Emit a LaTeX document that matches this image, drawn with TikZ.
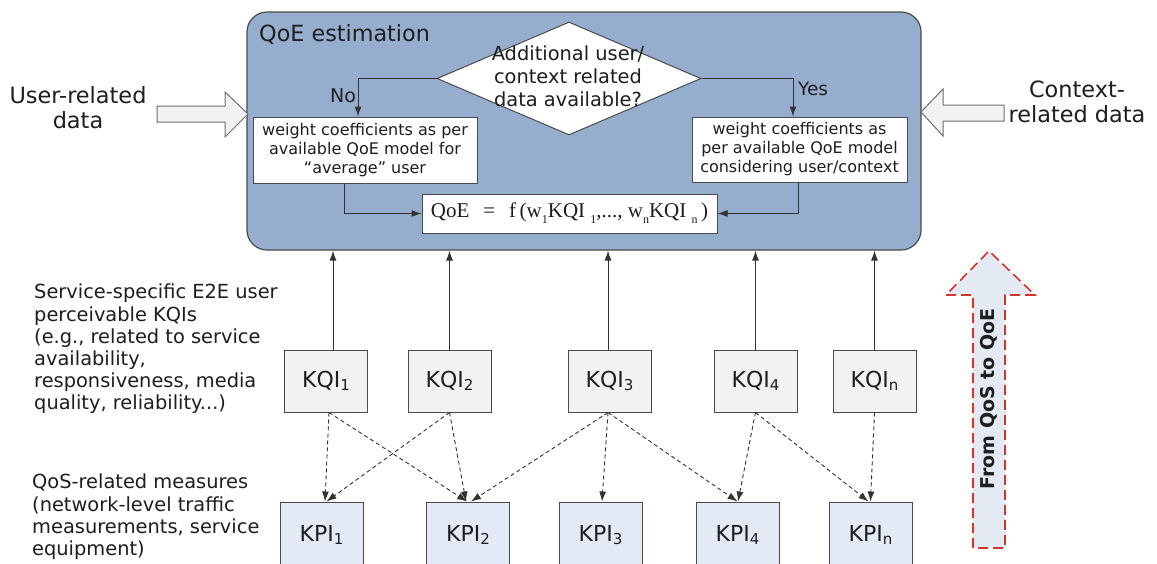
\documentclass[tikz,border=0pt]{standalone}
\usepackage{fontspec}
\setmainfont{DejaVu Sans}
\newfontfamily\formulafont{Liberation Serif}
\usetikzlibrary{arrows.meta,shapes.geometric,calc}
\definecolor{mainblue}{HTML}{95AECE}
\definecolor{kqifill}{HTML}{F2F2F2}
\definecolor{kpifill}{HTML}{E4EAF5}
\definecolor{bigfill}{HTML}{E4EAF4}
\definecolor{bigred}{HTML}{D2342C}
\definecolor{linec}{HTML}{333333}
\definecolor{boxline}{HTML}{4A4A4A}
\definecolor{txt}{HTML}{1E1E1E}
\newcommand\fsz[2]{\fontsize{#1}{#2}\selectfont}
\newcommand\mysub[1]{\raisebox{-0.12em}{\fsz{15}{15}#1}}
\newcommand\fsub[1]{\raisebox{-0.28em}{\fsz{12}{12}#1}}
\tikzset{
  solidarrow/.style={draw=linec, line width=1pt, -{Latex[length=10pt,width=7pt]}},
  dasharrow/.style={draw=linec, line width=0.9pt, dash pattern=on 4pt off 3pt, -{Latex[length=10pt,width=7pt]}},
  kqibox/.style={draw=boxline, fill=kqifill, line width=1pt, minimum width=83pt, minimum height=62pt, inner sep=0pt, text=txt, font=\fsz{22}{24}},
  kpibox/.style={draw=boxline, fill=kpifill, line width=1pt, minimum width=83pt, minimum height=66pt, inner sep=0pt, text=txt, font=\fsz{22}{24}},
  wbox/.style={draw=boxline, fill=white, line width=1pt, inner sep=0pt, align=center, text=txt, font=\fsz{16}{19}},
  fatarrow/.style={draw=boxline!80, fill=kqifill, line width=1pt},
  plain/.style={inner sep=0pt, text=txt}
}
\begin{document}
\begin{tikzpicture}[x=1pt,y=-1pt]
\clip (0,0) rectangle (1157,563);
\fill[white] (0,0) rectangle (1157,563);

% main box
\node[draw=boxline, fill=mainblue, rounded corners=20pt, minimum width=674pt, minimum height=238pt, inner sep=0pt, line width=1.2pt] (main) at (584,131) {};
\node[plain, anchor=base west, font=\fsz{22.3}{24}] (title) at (259,41) {QoE estimation};

% decision
\node[diamond, draw=boxline, fill=white, line width=1pt, minimum width=264pt, minimum height=113pt, inner sep=0pt] (dia) at (569,78.5) {};
\node[plain, anchor=north, align=center, font=\fsz{19.4}{23}] (diatext) at (568,46) {Additional user/\\context related\\data available?};

\node[wbox, minimum width=224pt, minimum height=66pt] (lbox) at (365,150) {weight coefficients as per\\available QoE model for\\“average” user};
\node[wbox, minimum width=215pt, minimum height=65pt] (rbox) at (799.5,149.5) {weight coefficients as\\per available QoE model\\considering user/context};
\node[wbox, minimum width=295pt, minimum height=39pt] (form) at (569.5,213.5) {\formulafont\fsz{21}{23}QoE\ \ \,=\ \ \,f\,(w\fsub{1}KQI\ \fsub{1},..., w\fsub{n}KQI\ \fsub{n}\,)};

\node[plain, anchor=base west, font=\fsz{19}{21}] (no) at (330,102) {No};
\node[plain, anchor=base west, font=\fsz{18.5}{21}] (yes) at (798,95) {Yes};

\coordinate (lboxN) at ([xshift=-7pt]lbox.north);
\coordinate (rboxN) at ([xshift=-6.5pt]rbox.north);
\coordinate (lboxS) at ([xshift=-21pt]lbox.south);
\coordinate (rboxS) at ([xshift=-1.5pt]rbox.south);
\draw[solidarrow] (dia.west) -| (lboxN);
\draw[solidarrow] (dia.east) -| (rboxN);
\draw[solidarrow] (lboxS) |- (form.west);
\draw[solidarrow] (rboxS) |- (form.east);

% side inputs
\draw[fatarrow] (157,106) -- (225,106) -- (225,92) -- (248,114) -- (225,137) -- (225,122) -- (157,122) -- cycle;
\draw[fatarrow] (1004,105) -- (943,105) -- (943,89) -- (921,112) -- (943,136) -- (943,121) -- (1004,121) -- cycle;
\node[plain, anchor=north, align=center, font=\fsz{22.4}{25}] (user) at (78,86) {User-related\\data};
\node[plain, anchor=north, align=center, font=\fsz{22.4}{25}] (ctx) at (1077,81) {Context-\\related data};

% left descriptions
\node[plain, anchor=north west, align=left, font=\fsz{19.4}{22.2}] (kqidesc) at (34,284) {Service-specific E2E user\\perceivable KQIs\\(e.g., related to service\\availability,\\responsiveness, media\\quality, reliability...)};
\node[plain, anchor=north west, align=left, font=\fsz{19.4}{22.3}] (kpidesc) at (32,474) {QoS-related measures\\(network-level traffic\\measurements, service\\equipment)};

% KQI boxes
\node[kqibox] (k1) at (326,381) {KQI\mysub{1}};
\node[kqibox] (k2) at (449.5,381) {KQI\mysub{2}};
\node[kqibox] (k3) at (609.5,381) {KQI\mysub{3}};
\node[kqibox] (k4) at (755.5,381) {KQI\mysub{4}};
\node[kqibox] (k5) at (874.5,381) {KQI\mysub{n}};

% KPI boxes
\node[kpibox] (p1) at (321.5,535) {KPI\mysub{1}};
\node[kpibox] (p2) at (468,535) {KPI\mysub{2}};
\node[kpibox] (p3) at (600.5,535) {KPI\mysub{3}};
\node[kpibox] (p4) at (737.5,535) {KPI\mysub{4}};
\node[kpibox] (p5) at (870.5,535) {KPI\mysub{n}};

% KQI -> QoE estimation
\coordinate (k1t) at ([xshift=7pt]k1.north);
\draw[solidarrow] (k1t) -- (k1t |- main.south);
\draw[solidarrow] (k2.north) -- (k2.north |- main.south);
\coordinate (k3t) at ([xshift=-1.5pt]k3.north);
\draw[solidarrow] (k3t) -- (k3t |- main.south);
\draw[solidarrow] (k4.north) -- (k4.north |- main.south);
\draw[solidarrow] (k5.north) -- (k5.north |- main.south);

% KPI -> KQI (dashed)
\coordinate (k1b) at ([xshift=3pt]k1.south);
\coordinate (k3b) at ([xshift=-1.5pt]k3.south);
\draw[dasharrow] (k1b) -- ([xshift=3.5pt]p1.north);
\draw[dasharrow] (k1b) -- ([xshift=-1pt]p2.north);
\draw[dasharrow] (k2.south) -- ([xshift=5pt]p1.north);
\draw[dasharrow] (k2.south) -- ([xshift=-2pt]p2.north);
\draw[dasharrow] (k3b) -- ([xshift=3pt]p2.north);
\draw[dasharrow] (k3b) -- ([xshift=1.5pt]p3.north);
\draw[dasharrow] (k3b) -- (p4.north);
\draw[dasharrow] (k4.south) -- ([xshift=0.5pt]p4.north);
\draw[dasharrow] (k4.south) -- ([xshift=-2pt]p5.north);
\draw[dasharrow] (k5.south) -- (p5.north);

% big arrow
\draw[fill=bigfill, draw=bigred, line width=1.6pt, dash pattern=on 10pt off 5pt] (973,548) -- (973,295) -- (946,295) -- (989,251) -- (1035,295) -- (1005,295) -- (1005,548) -- cycle;
\node[plain, rotate=90, font=\bfseries\fsz{19}{21}] (qosqoe) at (989,399) {From QoS to QoE};
\end{tikzpicture}
\end{document}
